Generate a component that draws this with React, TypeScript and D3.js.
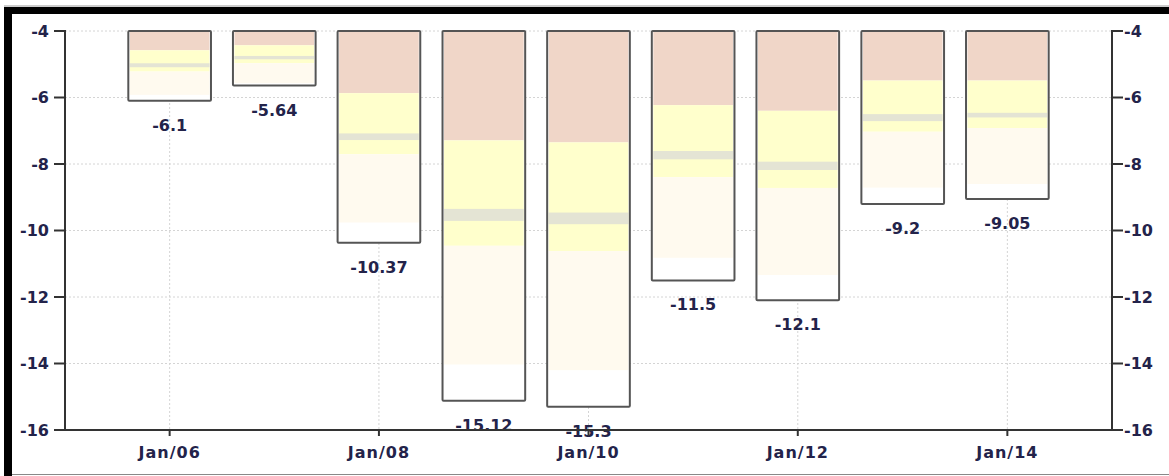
import * as d3 from 'd3';
import * as React from 'react';

const width = 1169;
const height = 476;
const margin = { top: 31, right: 57, bottom: 46, left: 65 };

// yearly values
const years = [2006, 2007, 2008, 2009, 2010, 2011, 2012, 2013, 2014];
const actual = [-6.1, -5.64, -10.37, -15.12, -15.3, -11.5, -12.1, -9.2, -9.05];
const labels = ['-6.1', '-5.64', '-10.37', '-15.12', '-15.3', '-11.5', '-12.1', '-9.2', '-9.05'];
const pinkEnd = [-4.58, -4.43, -5.87, -7.29, -7.35, -6.23, -6.4, -5.49, -5.49];
const grayTop = [-4.97, -4.75, -7.08, -9.35, -9.46, -7.61, -7.93, -6.5, -6.46];
const grayBottom = [-5.09, -4.85, -7.28, -9.71, -9.81, -7.86, -8.18, -6.71, -6.6];
const yellowEnd = [-5.22, -4.97, -7.71, -10.46, -10.62, -8.4, -8.72, -7.03, -6.92];
const paleEnd = [-5.92, -5.57, -9.76, -14.03, -14.2, -10.82, -11.34, -8.71, -8.6];

const yTicks = [-4, -6, -8, -10, -12, -14, -16];
const xTickYears = [2006, 2008, 2010, 2012, 2014];

const textColor = '#23234a';
const font = '"DejaVu Sans", Verdana, sans-serif';

export default () => {
  const x = d3
    .scaleTime()
    .domain([new Date(2005, 0, 1), new Date(2015, 0, 1)])
    .range([margin.left, width - margin.right]);

  const y = d3
    .scaleLinear()
    .domain([-4, -16])
    .range([margin.top, height - margin.bottom]);

  const fmt = d3.timeFormat('%b/%y');
  const step = x(new Date(2007, 0, 1)) - x(new Date(2006, 0, 1));
  const bw = step * 0.79;

  const left = margin.left;
  const right = width - margin.right;
  const top = margin.top;
  const bottom = height - margin.bottom;

  const bars = years.map((yr, i) => ({
    cx: x(new Date(yr, 0, 1)),
    value: actual[i],
    label: labels[i],
    bands: [
      { from: -4, to: pinkEnd[i], fill: '#f0d6c8' },
      { from: pinkEnd[i], to: yellowEnd[i], fill: '#ffffcc' },
      { from: grayTop[i], to: grayBottom[i], fill: '#e4e4d4' },
      { from: yellowEnd[i], to: paleEnd[i], fill: '#fffaef' },
    ],
  }));

  return (
    <svg
      width={width}
      height={height}
      style={{ position: 'absolute', left: 0, top: 0, background: '#fff' }}
    >
      {/* frame */}
      <line x1={4} x2={width} y1={6} y2={6} stroke="#999" strokeWidth={1} />
      <rect x={4} y={7} width={width - 4} height={7} fill="#000" />
      <rect x={4} y={7} width={8} height={height - 7} fill="#000" />
      <line x1={12} x2={width} y1={474.5} y2={474.5} stroke="#888" strokeWidth={1} />

      {/* grid */}
      <g stroke="#d4d4d4" strokeWidth={1} strokeDasharray="2,2">
        {yTicks.map(t => (
          <line key={t} x1={left} x2={right} y1={y(t)} y2={y(t)} />
        ))}
        {xTickYears.map(yr => (
          <line
            key={yr}
            x1={x(new Date(yr, 0, 1))}
            x2={x(new Date(yr, 0, 1))}
            y1={top}
            y2={bottom}
          />
        ))}
      </g>

      {/* bars */}
      {bars.map(b => (
        <g key={b.cx}>
          <rect
            x={b.cx - bw / 2}
            y={y(-4)}
            width={bw}
            height={y(b.value) - y(-4)}
            fill="#fff"
          />
          {b.bands.map((s, j) => (
            <rect
              key={j}
              x={b.cx - bw / 2 + 1.5}
              y={y(s.from)}
              width={bw - 3}
              height={y(s.to) - y(s.from)}
              fill={s.fill}
            />
          ))}
          <rect
            x={b.cx - bw / 2}
            y={y(-4)}
            width={bw}
            height={y(b.value) - y(-4)}
            fill="none"
            stroke="#555"
            strokeWidth={2}
            rx={1}
          />
          <text
            x={b.cx}
            y={y(b.value) + 30}
            textAnchor="middle"
            fontFamily={font}
            fontWeight="bold"
            fontSize={16}
            fill={textColor}
          >
            {b.label}
          </text>
        </g>
      ))}

      {/* axes */}
      <g stroke="#333" strokeWidth={2} fill="none">
        <line x1={left} x2={left} y1={top - 1} y2={bottom + 1} />
        <line x1={right} x2={right} y1={top - 1} y2={bottom + 1} />
        <line x1={left} x2={right} y1={bottom} y2={bottom} />
        {yTicks.map(t => (
          <g key={t}>
            <line x1={left - 11} x2={left} y1={y(t)} y2={y(t)} />
            <line x1={right} x2={right + 11} y1={y(t)} y2={y(t)} />
          </g>
        ))}
        {xTickYears.map(yr => (
          <line
            key={yr}
            x1={x(new Date(yr, 0, 1))}
            x2={x(new Date(yr, 0, 1))}
            y1={bottom}
            y2={bottom + 6}
          />
        ))}
      </g>

      <g fontFamily={font} fontWeight="bold" fontSize={16} fill={textColor}>
        {yTicks.map(t => (
          <g key={t}>
            <text x={left - 16} y={y(t)} dy="0.35em" textAnchor="end">
              {t}
            </text>
            <text x={right + 12} y={y(t)} dy="0.35em" textAnchor="start">
              {t}
            </text>
          </g>
        ))}
        {xTickYears.map(yr => (
          <text
            key={yr}
            x={x(new Date(yr, 0, 1))}
            y={bottom + 28}
            textAnchor="middle"
            letterSpacing={1}
          >
            {fmt(new Date(yr, 0, 1))}
          </text>
        ))}
      </g>
    </svg>
  );
};
